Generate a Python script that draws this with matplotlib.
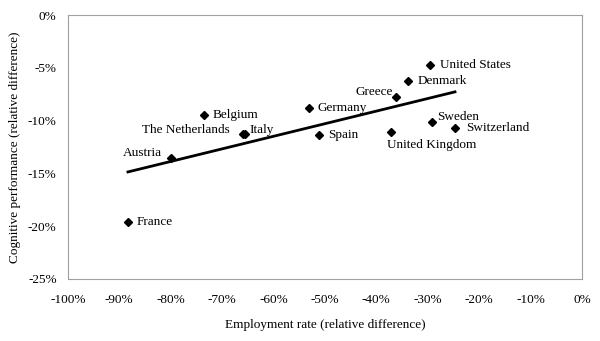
import matplotlib.pyplot as plt
import numpy as np
from matplotlib.ticker import FuncFormatter

plt.rcParams.update({'font.family': 'Liberation Serif', 'font.size': 9.5})

countries = ['France', 'Austria', 'Belgium', 'The Netherlands', 'Italy', 'Germany',
             'Spain', 'Greece', 'United Kingdom', 'Denmark', 'United States',
             'Sweden', 'Switzerland']
employment = [-88.3, -80.0, -73.5, -66.0, -65.5, -53.1, -51.2, -36.2, -37.2,
              -33.9, -29.6, -29.2, -24.7]
cognitive = [-19.6, -13.5, -9.5, -11.3, -11.3, -8.8, -11.4, -7.8, -11.1,
             -6.25, -4.7, -10.1, -10.7]

# label offsets in points and horizontal alignment per country
label_pos = {
    'France': (6.5, 0, 'left'),
    'Austria': (-6.5, 3, 'right'),
    'Belgium': (6.5, 0, 'left'),
    'The Netherlands': (-9, 3, 'right'),
    'Italy': (3, 3, 'left'),
    'Germany': (6.5, 0, 'left'),
    'Spain': (6.5, 0, 'left'),
    'Greece': (-2, 3.5, 'right'),
    'United Kingdom': (-3, -9, 'left'),
    'Denmark': (7.5, 0, 'left'),
    'United States': (7, 0, 'left'),
    'Sweden': (4, 3.5, 'left'),
    'Switzerland': (8, 0, 'left'),
}

x = np.array(employment)
y = np.array(cognitive)
b, a = np.polyfit(x, y, 1)
xf = np.array([x.min(), x.max()])

fig, ax = plt.subplots(figsize=(6, 3.41), dpi=100)
fig.subplots_adjust(left=0.113, right=0.97, top=0.956, bottom=0.182)

ax.plot(xf, a + b * xf, color='black', lw=2, zorder=2)
ax.plot(x, y, 'D', color='black', ms=4.5, zorder=3)
for c, xi, yi in zip(countries, x, y):
    dx, dy, ha = label_pos[c]
    ax.annotate(c, (xi, yi), xytext=(dx, dy), textcoords='offset points',
                ha=ha, va='center')

ax.set_xlim(-100, 0)
ax.set_ylim(-25, 0)
ax.set_xticks(np.arange(-100, 1, 10))
ax.set_yticks(np.arange(-25, 1, 5))
pct = FuncFormatter(lambda v, p: f'{v:.0f}%')
ax.xaxis.set_major_formatter(pct)
ax.yaxis.set_major_formatter(pct)
ax.tick_params(axis='x', length=0, pad=11)
ax.tick_params(axis='y', length=0, pad=8)
for s in ax.spines.values():
    s.set_color('#a0a0a0')
ax.set_xlabel('Employment rate (relative difference)', labelpad=9)
ax.set_ylabel('Cognitive performance (relative difference)', labelpad=5)

plt.savefig('out.png')
